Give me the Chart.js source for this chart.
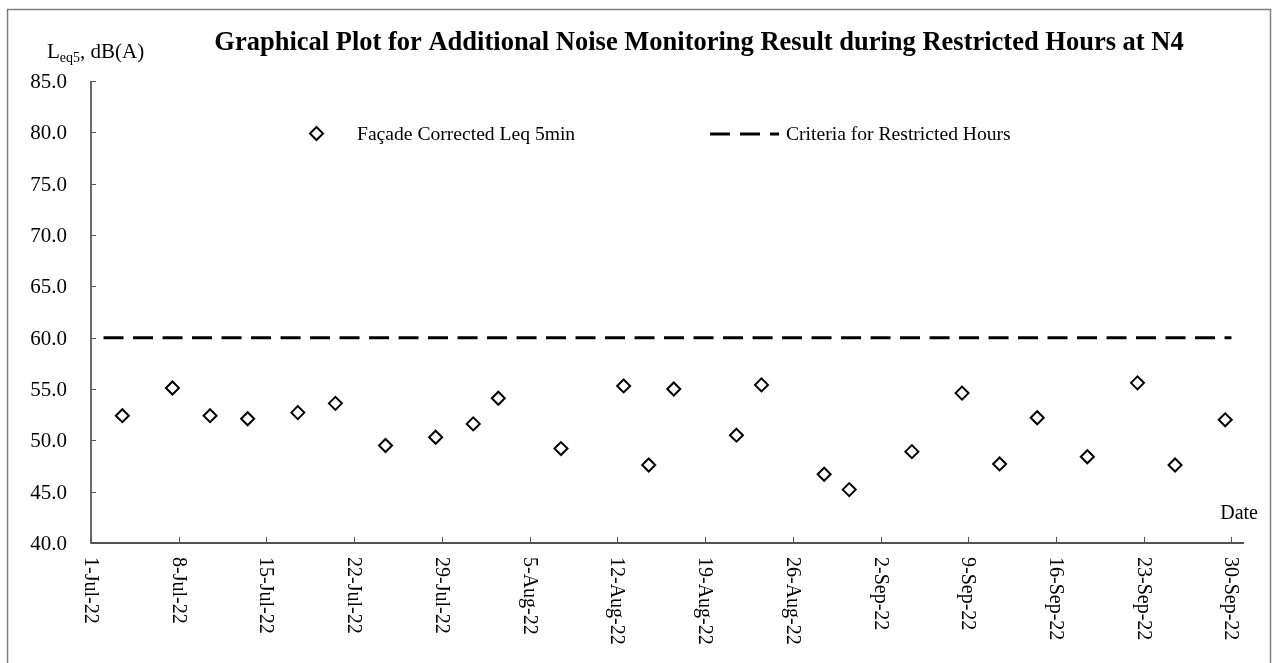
<!DOCTYPE html>
<html>
<head>
<meta charset="utf-8">
<title>Noise Monitoring N4</title>
<script src="https://cdn.jsdelivr.net/npm/chart.js@4.4.1/dist/chart.umd.min.js"></script>
<style>
  html, body { margin: 0; padding: 0; background: #fff; }
  #wrap { width: 1279px; height: 663px; position: relative; }
</style>
</head>
<body>
<div id="wrap"><canvas id="mycanvas"></canvas></div>
<script>
// sample dates (all taken around noon) and facade corrected Leq 5min, dB(A)
var sampleDates = ['3-Jul-22', '7-Jul-22', '10-Jul-22', '13-Jul-22', '17-Jul-22', '20-Jul-22', '24-Jul-22',
  '28-Jul-22', '31-Jul-22', '2-Aug-22', '7-Aug-22', '12-Aug-22', '14-Aug-22', '16-Aug-22',
  '21-Aug-22', '23-Aug-22', '28-Aug-22', '30-Aug-22', '4-Sep-22', '8-Sep-22', '11-Sep-22',
  '14-Sep-22', '18-Sep-22', '22-Sep-22', '25-Sep-22', '29-Sep-22'];
var sampleTime = '12:00';
var leq5 = [52.4, 55.1, 52.4, 52.1, 52.7, 53.6, 49.5,
  50.3, 51.6, 54.1, 49.2, 55.3, 47.6, 55.0,
  50.5, 55.4, 46.7, 45.2, 48.9, 54.6, 47.7,
  52.2, 48.4, 55.6, 47.6, 52.0];

// criteria line
var criteriaDates = ['2-Jul-22', '30-Sep-22'];
var criteriaLevel = [60, 60];

// axes
var xTickLabels = ['1-Jul-22', '8-Jul-22', '15-Jul-22', '22-Jul-22', '29-Jul-22', '5-Aug-22', '12-Aug-22',
  '19-Aug-22', '26-Aug-22', '2-Sep-22', '9-Sep-22', '16-Sep-22', '23-Sep-22', '30-Sep-22'];
var xStart = '1-Jul-22', xEnd = '1-Oct-22';
var yTickLabels = ['40.0', '45.0', '50.0', '55.0', '60.0', '65.0', '70.0', '75.0', '80.0', '85.0'];

var months = {Jan:0,Feb:1,Mar:2,Apr:3,May:4,Jun:5,Jul:6,Aug:7,Sep:8,Oct:9,Nov:10,Dec:11};
function toMs(s, t) {
  var p = s.split('-');
  var h = 0, m = 0;
  if (t) { h = parseInt(t.split(':')[0]); m = parseInt(t.split(':')[1]); }
  return Date.UTC(2000 + parseInt(p[2]), months[p[1]], parseInt(p[0]), h, m);
}
var DAY = 86400000;
function dayNo(s, t) { return (toMs(s, t) - toMs(xStart)) / DAY; }

var points = [];
for (var i = 0; i < sampleDates.length; i++) {
  points.push({x: dayNo(sampleDates[i], sampleTime), y: leq5[i]});
}
var criteria = [];
for (var j = 0; j < criteriaDates.length; j++) {
  criteria.push({x: dayNo(criteriaDates[j]), y: criteriaLevel[j]});
}

var serif = "'Liberation Serif', 'Times New Roman', serif";

// draws frame, axes, ticks, labels, title and legend around the plot
var decor = {
  id: 'decor',
  beforeDraw: function(chart) {
    var c = chart.ctx;
    c.save();
    c.fillStyle = '#fff';
    c.fillRect(0, 0, chart.width, chart.height);
    c.restore();
  },
  afterDraw: function(chart) {
    var c = chart.ctx;
    var xs = chart.scales.x, ys = chart.scales.y;
    var a = chart.chartArea;
    c.save();

    // outer frame
    c.strokeStyle = '#7f7f7f';
    c.lineWidth = 1.5;
    c.strokeRect(7.5, 9.5, 1263, 700);

    // axis lines
    c.strokeStyle = '#1a1a1a';
    c.lineWidth = 1.3;
    c.beginPath();
    c.moveTo(a.left, a.top);
    c.lineTo(a.left, a.bottom);
    c.lineTo(a.right, a.bottom);
    c.stroke();

    // y ticks (inside) and labels
    c.strokeStyle = '#555';
    c.lineWidth = 1;
    c.fillStyle = '#000';
    c.font = '21px ' + serif;
    c.textAlign = 'right';
    c.textBaseline = 'middle';
    yTickLabels.forEach(function(lab) {
      var y = Math.round(ys.getPixelForValue(parseFloat(lab))) + 0.5;
      c.beginPath();
      c.moveTo(a.left, y);
      c.lineTo(a.left + 5, y);
      c.stroke();
      c.fillText(lab, 67, y + 1);
    });

    // x ticks (inside) and rotated labels
    c.font = '20px ' + serif;
    xTickLabels.forEach(function(lab) {
      var x = Math.round(xs.getPixelForValue(dayNo(lab))) + 0.5;
      c.beginPath();
      c.moveTo(x, a.bottom);
      c.lineTo(x, a.bottom - 6);
      c.stroke();
      c.save();
      c.translate(x, a.bottom + 14);
      c.rotate(Math.PI / 2);
      c.textAlign = 'left';
      c.textBaseline = 'middle';
      c.fillText(lab, 0, 1);
      c.restore();
    });

    // axis titles
    c.textBaseline = 'alphabetic';
    c.textAlign = 'right';
    c.fillText('Date', 1258, 519);

    c.textAlign = 'left';
    var tx = 47;
    c.font = '21px ' + serif;
    c.fillText('L', tx, 58);
    tx += c.measureText('L').width;
    c.font = '14px ' + serif;
    c.fillText('eq5', tx, 62);
    tx += c.measureText('eq5').width;
    c.font = '21px ' + serif;
    c.fillText(', dB(A)', tx, 58);

    // chart title
    c.font = 'bold 26.5px ' + serif;
    c.textAlign = 'center';
    c.fillText('Graphical Plot for Additional Noise Monitoring Result during Restricted Hours at N4', 699, 50);

    // legend
    c.font = '19.6px ' + serif;
    c.textAlign = 'left';
    c.fillStyle = '#fff';
    c.strokeStyle = '#000';
    c.lineWidth = 2;
    Chart.helpers.drawPoint(c, { pointStyle: 'rectRot', radius: 6.5, rotation: 0, borderWidth: 2 }, 316.5, 133.5);
    c.fillStyle = '#000';
    c.fillText(chart.data.datasets[0].label, 357, 140);

    c.lineWidth = 3;
    c.setLineDash([20, 10]);
    c.beginPath();
    c.moveTo(710, 134);
    c.lineTo(779, 134);
    c.stroke();
    c.setLineDash([]);
    c.fillText(chart.data.datasets[1].label, 786, 140);

    c.restore();
  }
};

var ctx = document.getElementById('mycanvas');
new Chart(ctx, {
  type: 'scatter',
  data: {
    datasets: [
      {
        label: 'Fa\u00e7ade Corrected Leq 5min',
        data: points,
        pointStyle: 'rectRot',
        pointRadius: 6.5,
        pointBorderWidth: 2,
        borderColor: '#000',
        backgroundColor: '#fff',
        showLine: false,
        order: 0
      },
      {
        type: 'line',
        label: 'Criteria for Restricted Hours',
        data: criteria,
        borderColor: '#000',
        borderWidth: 3,
        borderDash: [20, 9.5],
        pointRadius: 0,
        fill: false,
        order: 1
      }
    ]
  },
  options: {
    responsive: true,
    maintainAspectRatio: false,
    devicePixelRatio: 1,
    animation: false,
    layout: { padding: { left: 91, right: 35, top: 81, bottom: 120 } },
    plugins: {
      legend: { display: false },
      tooltip: { enabled: false },
      title: { display: false }
    },
    scales: {
      x: { type: 'linear', display: false, min: 0, max: dayNo(xEnd) },
      y: { type: 'linear', display: false, min: parseFloat(yTickLabels[0]), max: parseFloat(yTickLabels[yTickLabels.length - 1]) }
    }
  },
  plugins: [decor]
});
</script>
</body>
</html>
